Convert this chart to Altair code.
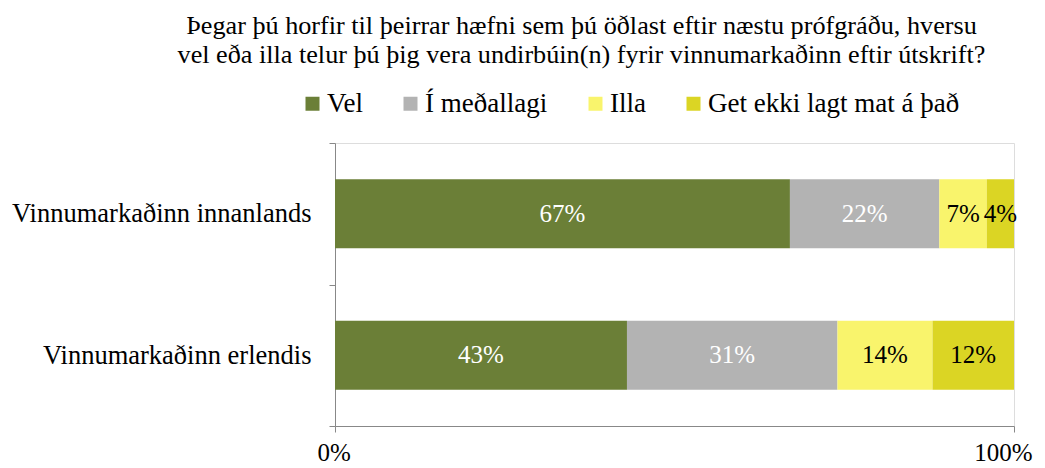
import altair as alt
import pandas as pd

categories = ["Vinnumarkaðinn innanlands", "Vinnumarkaðinn erlendis"]
series = ["Vel", "Í meðallagi", "Illa", "Get ekki lagt mat á það"]
colors = ["#6b7f37", "#b3b3b3", "#f9f46c", "#dbd524"]
text_colors = ["white", "white", "black", "black"]
innanlands = [67, 22, 7, 4]
erlendis = [43, 31, 14, 12]
x_ticks = [0, 100]

rows = []
for cat, vals in zip(categories, [innanlands, erlendis]):
    for i, (s, v) in enumerate(zip(series, vals)):
        rows.append({"cat": cat, "series": s, "value": v, "order": i, "tc": text_colors[i]})
df = pd.DataFrame(rows)

FONT = "Liberation Serif"

base = alt.Chart(df).transform_stack(
    stack="value", groupby=["cat"], as_=["x0", "x1"], sort=[alt.SortField("order", order="ascending")]
).transform_calculate(mid="(datum.x0 + datum.x1) / 2")

y = alt.Y("cat:N", sort=categories, title=None,
          scale=alt.Scale(paddingInner=0, paddingOuter=0),
          axis=alt.Axis(tickBand="extent", labelFontSize=26.5, labelPadding=18, labelFont=FONT,
                        labelColor="black", domainColor="#888888", tickColor="#888888",
                        tickSize=6, labelLimit=400))

bars = base.mark_bar(size=69).encode(
    x=alt.X("x0:Q", scale=alt.Scale(domain=[0, 100]), title=None,
            axis=alt.Axis(values=x_ticks, labelExpr="datum.value + '%'", labelFontSize=25,
                          labelFont=FONT, labelColor="black", domainColor="#888888",
                          tickColor="#888888", tickSize=6, labelPadding=8, grid=False,
                          labelFlush=True, labelFlushOffset=18)),
    x2="x1:Q",
    y=y,
    color=alt.Color("series:N", sort=series,
                    scale=alt.Scale(domain=series, range=colors),
                    legend=alt.Legend(title=None, orient="none", direction="horizontal",
                                      columns=4, legendX=-36, legendY=-53,
                                      symbolType="square", symbolSize=196,
                                      symbolStrokeWidth=0, labelFontSize=27, labelFont=FONT,
                                      labelColor="black", columnPadding=34, labelOffset=1,
                                      labelLimit=400)),
)

texts = base.mark_text(fontSize=25, font=FONT).encode(
    x="mid:Q",
    y=alt.Y("cat:N", sort=categories),
    text=alt.Text("label:N"),
    color=alt.Color("tc:N", scale=None),
).transform_calculate(label="datum.value + '%'")

chart = alt.layer(bars, texts).properties(
    width=679, height=283,
    autosize=alt.AutoSizeParams(type="none"),
    padding={"left": 327, "top": 135, "right": 20, "bottom": 38},
    title=alt.TitleParams(
        ["Þegar þú horfir til þeirrar hæfni sem þú öðlast eftir næstu prófgráðu, hversu",
         "vel eða illa telur þú þig vera undirbúin(n) fyrir vinnumarkaðinn eftir útskrift?"],
        fontSize=26.2, font=FONT, fontWeight="normal", color="black",
        anchor="middle", dx=-93, offset=22, lineHeight=29),
).configure_view(stroke=None).configure(font=FONT)

chart.save("out.html", embed_options={"renderer": "svg", "actions": False})
